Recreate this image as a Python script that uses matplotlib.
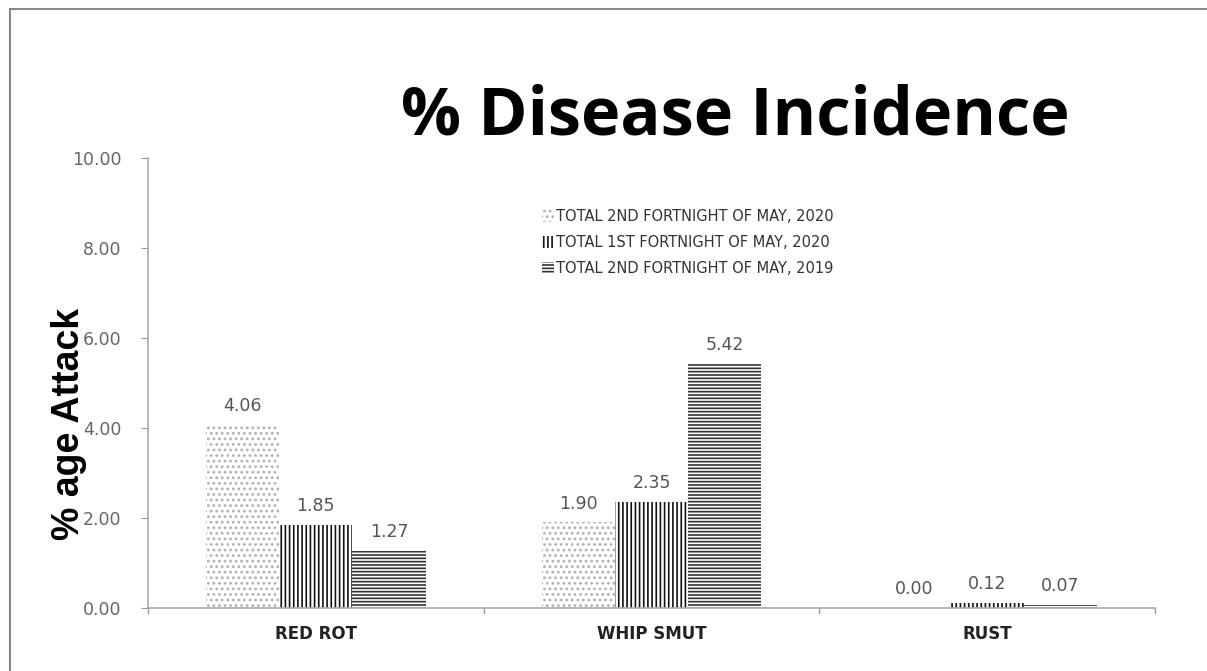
import matplotlib
matplotlib.use("Agg")
import matplotlib.pyplot as plt
import numpy as np
from matplotlib.patches import Rectangle

categories = ["RED ROT", "WHIP SMUT", "RUST"]
series_names = ["TOTAL 2ND FORTNIGHT OF MAY, 2020",
                "TOTAL 1ST FORTNIGHT OF MAY, 2020",
                "TOTAL 2ND FORTNIGHT OF MAY, 2019"]
s2020_2nd = [4.06, 1.90, 0.00]
s2020_1st = [1.85, 2.35, 0.12]
s2019_2nd = [1.27, 5.42, 0.07]
yticks = [0, 2, 4, 6, 8, 10]

plt.rcParams['font.family'] = ['DejaVu Sans']
plt.rcParams['hatch.linewidth'] = 1.2

fig = plt.figure(figsize=(12.07, 6.71), dpi=100)
fig.patches.append(Rectangle((0.008, -0.01), 1.0, 0.996, transform=fig.transFigure,
                             fill=False, edgecolor="#888888", linewidth=1.5))
ax = fig.add_axes([0.1226, 0.0939, 0.8345, 0.6706])

x = np.arange(len(categories))
w = 0.218
series = [s2020_2nd, s2020_1st, s2019_2nd]
styles = [dict(hatch='...', edgecolor='#b0b0b0', facecolor='white'),
          dict(hatch='||||', edgecolor='#111111', facecolor='white'),
          dict(hatch='-----', edgecolor='#333333', facecolor='white')]
handles = []
for i, (vals, st) in enumerate(zip(series, styles)):
    bars = ax.bar(x + (i - 1) * w, vals, width=w, linewidth=0, label=series_names[i], **st)
    handles.append(bars)
    for xi, v in zip(x + (i - 1) * w, vals):
        ax.text(xi, v + 0.22, f"{v:.2f}", ha='center', va='bottom', fontsize=12.5, color='#555555')

ax.set_xlim(-0.5, 2.5)
ax.set_ylim(0, 10)
ax.set_yticks(yticks)
ax.set_yticklabels([f"{t:.2f}" for t in yticks], fontsize=12.5, color='#666666')
ax.set_xticks(x)
ax.set_xticklabels(categories, fontsize=12, fontweight='bold', color='#222222')
ax.tick_params(axis='x', length=0, pad=12)
ax.tick_params(axis='y', length=5, color='#999999', pad=14)
for t in [-0.5, 0.5, 1.5, 2.5]:
    ax.plot([t, t], [0, -0.12], color='#999999', lw=1, clip_on=False)
for s in ['top', 'right']:
    ax.spines[s].set_visible(False)
for s in ['left', 'bottom']:
    ax.spines[s].set_color('#aaaaaa')
    ax.spines[s].set_linewidth(1.2)

fig.text(0.057, 0.368, "% age Attack", rotation=90, ha='center', va='center',
         fontsize=27, fontweight='bold',
         family=['Liberation Sans Narrow', 'Liberation Sans', 'DejaVu Sans'])
fig.text(0.609, 0.826, "% Disease Incidence", ha='center', va='center', fontsize=48,
         fontweight='bold', family=['Open Sans', 'DejaVu Sans'])

leg = ax.legend(handles=handles, loc='upper left', bbox_to_anchor=(0.378, 0.915), frameon=False,
                fontsize=10.5, handlelength=0.8, handleheight=0.9, handletextpad=0.2,
                labelspacing=0.75, labelcolor='#333333')

fig.savefig("out.png", dpi=100)
